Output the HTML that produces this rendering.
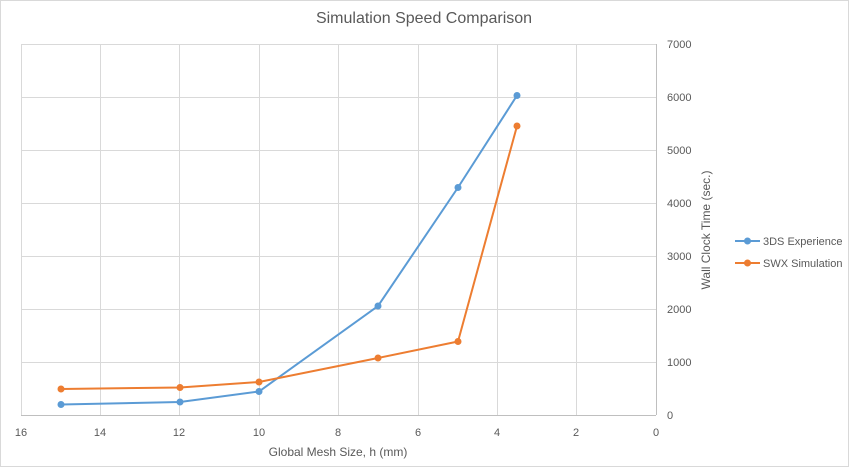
<!DOCTYPE html>
<html><head><meta charset="utf-8"><style>
body{margin:0;background:#fff}
svg{display:block;font-family:"Liberation Sans",sans-serif}
</style></head><body>
<svg width="849" height="467" viewBox="0 0 849 467">
<rect x="0.5" y="0.5" width="848" height="466" fill="#fff" stroke="#d9d9d9"/>
<text x="424" y="23" font-size="16" fill="#595959" text-anchor="middle">Simulation Speed Comparison</text>
<g stroke="#d9d9d9" stroke-width="1">
<line x1="21" y1="44.5" x2="656" y2="44.5"/>
<line x1="21" y1="97.5" x2="656" y2="97.5"/>
<line x1="21" y1="150.5" x2="656" y2="150.5"/>
<line x1="21" y1="203.5" x2="656" y2="203.5"/>
<line x1="21" y1="256.5" x2="656" y2="256.5"/>
<line x1="21" y1="309.5" x2="656" y2="309.5"/>
<line x1="21" y1="362.5" x2="656" y2="362.5"/>
<line x1="21.5" y1="44" x2="21.5" y2="415"/>
<line x1="100.5" y1="44" x2="100.5" y2="415"/>
<line x1="179.5" y1="44" x2="179.5" y2="415"/>
<line x1="259.5" y1="44" x2="259.5" y2="415"/>
<line x1="338.5" y1="44" x2="338.5" y2="415"/>
<line x1="418.5" y1="44" x2="418.5" y2="415"/>
<line x1="497.5" y1="44" x2="497.5" y2="415"/>
<line x1="576.5" y1="44" x2="576.5" y2="415"/>
</g>
<line x1="21" y1="415.5" x2="656" y2="415.5" stroke="#bfbfbf"/>
<line x1="656.5" y1="44" x2="656.5" y2="415" stroke="#bfbfbf"/>
<g font-size="11" fill="#595959" text-anchor="middle">
<text x="21" y="436">16</text><text x="100" y="436">14</text><text x="179" y="436">12</text><text x="259" y="436">10</text><text x="338" y="436">8</text><text x="418" y="436">6</text><text x="497" y="436">4</text><text x="576" y="436">2</text><text x="656" y="436">0</text>
</g>
<g font-size="11" fill="#595959">
<text x="667" y="48">7000</text><text x="667" y="101">6000</text><text x="667" y="154">5000</text><text x="667" y="207">4000</text><text x="667" y="260">3000</text><text x="667" y="313">2000</text><text x="667" y="366">1000</text><text x="667" y="419">0</text>
</g>
<text x="338" y="456" font-size="12" fill="#595959" text-anchor="middle">Global Mesh Size, h (mm)</text>
<text transform="translate(710,230) rotate(-90)" font-size="12" fill="#595959" text-anchor="middle">Wall Clock Time (sec.)</text>
<polyline fill="none" stroke="#5b9bd5" stroke-width="2" points="61,404.5 180,402 259,391.5 378,306 458,187.5 517,95.5"/>
<polyline fill="none" stroke="#ed7d31" stroke-width="2" points="61,389 180,387.5 259,382 378,358 458,341.5 517,126"/>
<g fill="#5b9bd5"><circle cx="61" cy="404.5" r="3.5"/><circle cx="180" cy="402" r="3.5"/><circle cx="259" cy="391.5" r="3.5"/><circle cx="378" cy="306" r="3.5"/><circle cx="458" cy="187.5" r="3.5"/><circle cx="517" cy="95.5" r="3.5"/></g>
<g fill="#ed7d31"><circle cx="61" cy="389" r="3.5"/><circle cx="180" cy="387.5" r="3.5"/><circle cx="259" cy="382" r="3.5"/><circle cx="378" cy="358" r="3.5"/><circle cx="458" cy="341.5" r="3.5"/><circle cx="517" cy="126" r="3.5"/></g>
<line x1="735" y1="241" x2="760" y2="241" stroke="#5b9bd5" stroke-width="2"/><circle cx="747.5" cy="241" r="3.5" fill="#5b9bd5"/>
<text x="763" y="245" font-size="11" fill="#595959">3DS Experience</text>
<line x1="735" y1="263" x2="760" y2="263" stroke="#ed7d31" stroke-width="2"/><circle cx="747.5" cy="263" r="3.5" fill="#ed7d31"/>
<text x="763" y="267" font-size="11" fill="#595959">SWX Simulation</text>
</svg>
</body></html>
